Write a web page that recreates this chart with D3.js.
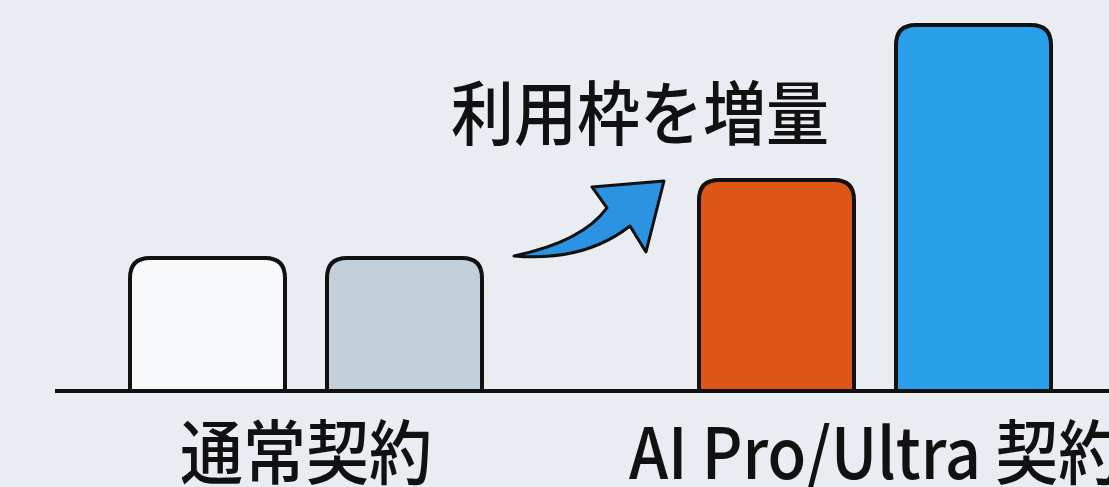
<!DOCTYPE html>
<html>
<head>
<meta charset="utf-8">
<script src="https://cdn.jsdelivr.net/npm/d3@7"></script>
<style>
  html, body { margin: 0; padding: 0; background: #e9edf1; overflow: hidden; }
  text { font-family: "Noto Sans CJK JP", "Noto Sans", sans-serif; fill: #111; }
</style>
</head>
<body>
<div class="chart"></div>
<script>
// data
const groups = ["通常契約", "AI Pro/Ultra 契約"];
const subKeys = ["before", "after"];
const values = [
    [36, 36],   // 通常契約
    [57.4, 100] // AI Pro/Ultra 契約
];
const fills = [
    ["#f8f9fa", "#c3cfdb"],
    ["#df5619", "#299fea"]
];
const annotation = "利用枠を増量";

const width = 1109;
const height = 487;
const baseY = 389;

const svg = d3.select(".chart")
    .append("svg")
    .attr("width", width)
    .attr("height", height);

svg.append("rect")
    .attr("width", width)
    .attr("height", height)
    .attr("fill", "#e9edf1");

const x0 = d3.scaleBand()
    .domain(groups)
    .range([130, 1051])
    .paddingInner(0.3814)
    .paddingOuter(0);

const x1 = d3.scaleBand()
    .domain(subKeys)
    .range([0, x0.bandwidth()])
    .paddingInner(0.2132);

const y = d3.scaleLinear()
    .domain([0, 100])
    .range([baseY, 25]);

// rounded top, flat bottom
function barPath(x, w, top, bottom, r) {
    return `M${x},${bottom} V${top + r} Q${x},${top} ${x + r},${top} H${x + w - r} Q${x + w},${top} ${x + w},${top + r} V${bottom}`;
}

const bars = [];
groups.forEach((g, i) => {
    subKeys.forEach((k, j) => {
        bars.push({group: g, key: k, value: values[i][j], fill: fills[i][j]});
    });
});

svg.selectAll("path.bar")
    .data(bars)
    .enter()
    .append("path")
    .attr("class", "bar")
    .attr("d", d => barPath(x0(d.group) + x1(d.key), x1.bandwidth(), y(d.value), baseY + 1, 20))
    .attr("fill", d => d.fill)
    .attr("stroke", "#111")
    .attr("stroke-width", 4)
    .attr("stroke-linejoin", "round");

// baseline
svg.append("line")
    .attr("x1", 55)
    .attr("x2", width)
    .attr("y1", baseY + 2)
    .attr("y2", baseY + 2)
    .attr("stroke", "#111")
    .attr("stroke-width", 4);

// group labels (cut at the bottom edge, as in the source)
svg.selectAll("text.glabel")
    .data(groups)
    .enter()
    .append("text")
    .attr("class", "glabel")
    .attr("transform", d => `translate(${x0(d) + x0.bandwidth() / 2}, 479) scale(0.9, 1)`)
    .attr("text-anchor", "middle")
    .attr("font-size", 70)
    .attr("font-weight", 500)
    .text(d => d);

// arrow between groups
const ax = x0(groups[0]) + x0.bandwidth();
const ay = y(values[0][1]);
svg.append("path")
    .attr("transform", `translate(${ax}, ${ay})`)
    .attr("d", "M32,-2 Q100,-16 125,-50 L110,-71 L182,-77 L164,-6 L148,-32 Q102,4 32,-2 Z")
    .attr("fill", "#2b93e2")
    .attr("stroke", "#111")
    .attr("stroke-width", 3)
    .attr("stroke-linejoin", "round");

// annotation text
svg.append("text")
    .attr("transform", `translate(${ax + 158}, 140) scale(0.9, 1)`)
    .attr("text-anchor", "middle")
    .attr("font-size", 70)
    .attr("font-weight", 500)
    .text(annotation);
</script>
</body>
</html>
